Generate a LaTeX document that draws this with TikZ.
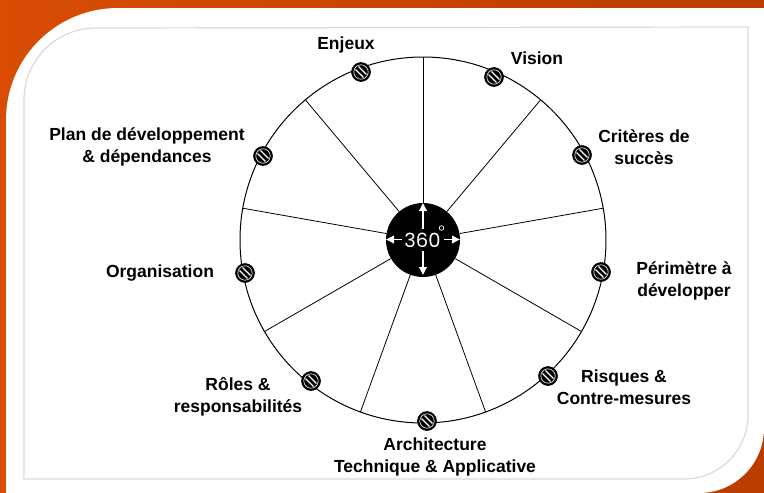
\documentclass[tikz,border=0pt]{standalone}
\usepackage{fontspec}
\setmainfont{Liberation Sans}
\newfontfamily\hubfont{Poppins}
\usetikzlibrary{arrows.meta,calc}
\definecolor{orangeA}{HTML}{D84C04}
\definecolor{orangeB}{HTML}{BA3D00}
\definecolor{frameC}{HTML}{E6D6D2}
\begin{document}
\begin{tikzpicture}[x=1pt,y=-1pt,
  lab/.style={font=\bfseries\fontsize{17.5}{21.5}\selectfont, align=center, inner sep=0pt},
  screw/.style={circle, minimum size=19pt, inner sep=0pt, fill=black, draw=black, line width=0.6pt,
    path picture={
      \draw[white, line width=0.6pt] (path picture bounding box.center) circle (7.2pt);
      \draw[white, line width=1.4pt] ([shift={(-5.4pt,2.4pt)}]path picture bounding box.center) -- ([shift={(2.4pt,-5.4pt)}]path picture bounding box.center);
      \draw[white, line width=1.4pt] ([shift={(-2.4pt,5.4pt)}]path picture bounding box.center) -- ([shift={(5.4pt,-2.4pt)}]path picture bounding box.center);
    }},
  spoke/.style={draw=black, line width=0.8pt},
  harrow/.style={draw=white, line width=1.8pt, -{Triangle[width=7.5pt,length=8pt]}}
]
\useasboundingbox (0,0) rectangle (764,493);
% background
\shade[left color=orangeA, right color=orangeB] (0,0) rectangle (764,493);
\fill[white] (6,493) -- (6,120) arc[start angle=180, end angle=270, radius=112] -- (764,8) -- (764,428) arc[start angle=0, end angle=90, radius=65] -- cycle;
\draw[frameC, line width=1.2pt] (24,479) -- (24,100) arc[start angle=180, end angle=270, radius=72] -- (748,27) -- (748,415) arc[start angle=0, end angle=90, radius=64] -- cycle;

% wheel
\coordinate (c) at (423,240);
\draw[black, line width=1pt] (c) circle (183);
\node[circle, fill=black, minimum size=74pt, inner sep=0pt] (hub) at (c) {};
\foreach \a [count=\i] in {90,50,10,-30,-70,-110,-150,170,130}{
  \coordinate (s\i) at ($(c)+(-\a:183)$);
}
\foreach \i in {1,...,9}{ \draw[spoke] (hub) -- (s\i); }

% hub content
\node[text=white, inner sep=0pt, font=\hubfont\fontsize{19.5}{19.5}\selectfont] (deg) at (422.5,240) {360};
\draw[white, line width=0.7pt] (441.5,228) circle (2.3);
\coordinate (uA) at (423,229); \coordinate (uB) at (423,203);
\coordinate (dA) at (423,251); \coordinate (dB) at (423,275);
\coordinate (lA) at (402,239.5); \coordinate (lB) at (386,239.5);
\coordinate (rA) at (444,239.5); \coordinate (rB) at (460,239.5);
\draw[harrow] (uA) -- (uB);
\draw[harrow] (dA) -- (dB);
\draw[harrow] (lA) -- (lB);
\draw[harrow] (rA) -- (rB);

% screws
\node[screw] (k1) at (361,72) {};
\node[screw] (k2) at (494,77) {};
\node[screw] (k3) at (582,155) {};
\node[screw] (k4) at (601,272) {};
\node[screw] (k5) at (548,376) {};
\node[screw] (k6) at (427,421) {};
\node[screw] (k7) at (311,381) {};
\node[screw] (k8) at (245,273) {};
\node[screw] (k9) at (263,156) {};

% labels
\node[lab] (t1) at (346,45) {Enjeux};
\node[lab] (t2) at (537,58) {Vision};
\node[lab] (t3) at (644,147) {Critères de\\succès};
\node[lab] (t4) at (684,281) {Périmètre à\\développer};
\node[lab] (t5) at (624,387) {Risques \&\\Contre-mesures};
\node[lab] (t6) at (435,457) {Architecture\\Technique \& Applicative};
\node[lab] (t7) at (238,397) {Rôles \&\\responsabilités};
\node[lab] (t8) at (160,273) {Organisation};
\node[lab] (t9) at (147,147) {Plan de développement\\\& dépendances};
\end{tikzpicture}
\end{document}
